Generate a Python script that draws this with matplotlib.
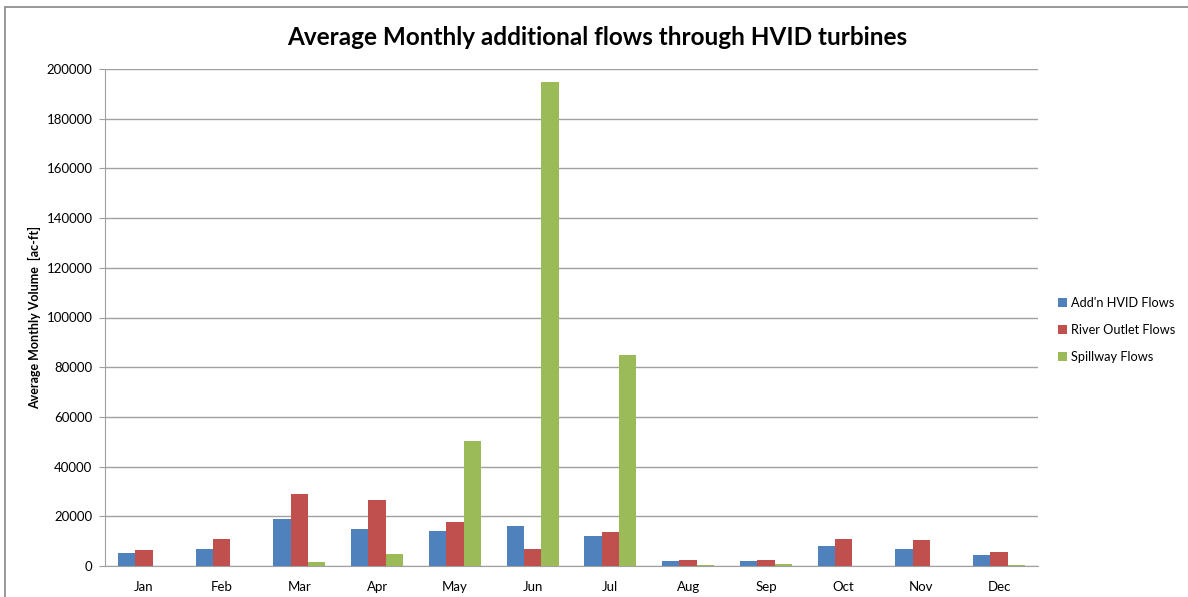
import matplotlib
matplotlib.use('Agg')
import matplotlib.pyplot as plt
import numpy as np
from matplotlib.patches import Rectangle

months = ['Jan', 'Feb', 'Mar', 'Apr', 'May', 'Jun',
          'Jul', 'Aug', 'Sep', 'Oct', 'Nov', 'Dec']
hvid = [5200, 6800, 18800, 14800, 14100, 16100,
        12100, 2100, 2100, 7900, 7000, 4400]
river = [6400, 10700, 28900, 26600, 17700, 6700,
         13600, 2300, 2400, 10900, 10500, 5800]
spill = [0, 0, 1700, 4800, 50300, 194600,
         84900, 300, 700, 0, 0, 300]
series_names = ["Add'n HVID Flows", 'River Outlet Flows', 'Spillway Flows']
colors = ['#4f81bd', '#c0504d', '#9bbb59']
yticks = np.arange(0, 200001, 20000)

plt.rcParams['font.family'] = ['Lato', 'DejaVu Sans']

fig = plt.figure(figsize=(11.88, 5.97), dpi=100)
# outer chart border
fig.patches.append(Rectangle((5 / 1188, -0.1), 1.2, (597 - 7) / 597 + 0.1,
                             transform=fig.transFigure, fill=False,
                             edgecolor='#868686', linewidth=1.2))

ax = fig.add_axes([105 / 1188, 31 / 597, 933 / 1188, 497 / 597])
x = np.arange(len(months))
w = 1 / 4.5
for i, (vals, name, c) in enumerate(zip([hvid, river, spill], series_names, colors)):
    ax.bar(x + (i - 1) * w, vals, width=w, color=c, label=name, zorder=3)

ax.set_xlim(-0.5, 11.5)
ax.set_ylim(0, 200000)
ax.set_yticks(yticks)
ax.set_yticklabels([str(v) for v in yticks])
ax.set_xticks(x)
ax.set_xticklabels(months)
ax.yaxis.grid(True, color='#a0a0a0', linewidth=1)
ax.set_axisbelow(True)
for s in ['top', 'right']:
    ax.spines[s].set_visible(False)
ax.spines['left'].set_color('#a0a0a0')
ax.spines['bottom'].set_color('#a0a0a0')
ax.tick_params(axis='y', length=4, color='#a0a0a0', labelsize=9.5, pad=5)
ax.tick_params(axis='x', length=0, labelsize=9.5, pad=11)
ax.set_ylabel('Average Monthly Volume  [ac-ft]', fontsize=9,
              fontweight='bold', labelpad=4)

fig.text(0.503, 0.938, 'Average Monthly additional flows through HVID turbines',
         ha='center', va='center', fontsize=17.5, fontweight='bold')

ax.legend(loc='center left', bbox_to_anchor=(1.0, 0.475), frameon=False,
          fontsize=9.2, handlelength=0.7, handleheight=0.7,
          handletextpad=0.3, labelspacing=1.2, borderaxespad=1.2)

fig.savefig('out.png', dpi=100)
